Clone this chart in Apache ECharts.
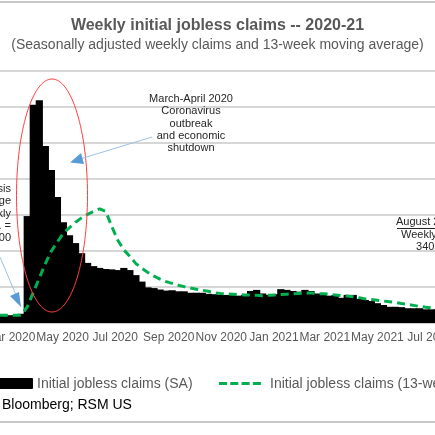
<!DOCTYPE html>
<html lang="en">
  <head>
    <meta charset="UTF-8" />
    <title>Weekly initial jobless claims</title>
    <script src="https://cdn.jsdelivr.net/npm/echarts@6/dist/echarts.min.js"></script>
    <style>
      html, body { margin: 0; padding: 0; background: #fff; }
    </style>
  </head>
  <body>
    <div id="main" style="width: 435px; height: 435px;"></div>
    <script type="text/javascript">
      // week ending dates (Saturdays)
      var weeks = [
        "2020-01-04", "2020-01-11", "2020-01-18", "2020-01-25", "2020-02-01", "2020-02-08",
        "2020-02-15", "2020-02-22", "2020-02-29", "2020-03-07", "2020-03-14", "2020-03-21",
        "2020-03-28", "2020-04-04", "2020-04-11", "2020-04-18", "2020-04-25", "2020-05-02",
        "2020-05-09", "2020-05-16", "2020-05-23", "2020-05-30", "2020-06-06", "2020-06-13",
        "2020-06-20", "2020-06-27", "2020-07-04", "2020-07-11", "2020-07-18", "2020-07-25",
        "2020-08-01", "2020-08-08", "2020-08-15", "2020-08-22", "2020-08-29", "2020-09-05",
        "2020-09-12", "2020-09-19", "2020-09-26", "2020-10-03", "2020-10-10", "2020-10-17",
        "2020-10-24", "2020-10-31", "2020-11-07", "2020-11-14", "2020-11-21", "2020-11-28",
        "2020-12-05", "2020-12-12", "2020-12-19", "2020-12-26", "2021-01-02", "2021-01-09",
        "2021-01-16", "2021-01-23", "2021-01-30", "2021-02-06", "2021-02-13", "2021-02-20",
        "2021-02-27", "2021-03-06", "2021-03-13", "2021-03-20", "2021-03-27", "2021-04-03",
        "2021-04-10", "2021-04-17", "2021-04-24", "2021-05-01", "2021-05-08", "2021-05-15",
        "2021-05-22", "2021-05-29", "2021-06-05", "2021-06-12", "2021-06-19", "2021-06-26",
        "2021-07-03", "2021-07-10", "2021-07-17", "2021-07-24", "2021-07-31", "2021-08-07",
        "2021-08-14", "2021-08-21"
      ];

      // initial jobless claims, SA (thousands)
      var claims = [
        214, 207, 220, 215, 203, 206,
        215, 220, 217, 211, 256, 2970,
        6060, 6190, 4920, 4250, 3500, 2800,
        2440, 2220, 1940, 1670, 1580, 1530,
        1500, 1490, 1470, 1530, 1470, 1330,
        1150, 990, 970, 930, 900, 910,
        880, 880, 840, 840, 840, 810,
        800, 780, 780, 780, 760, 780,
        890, 920, 820, 780, 800, 940,
        920, 890, 870, 920, 890, 820,
        800, 760, 780, 700, 780, 780,
        670, 640, 610, 550, 500, 450,
        450, 440, 410, 410, 410, 380,
        380, 390, 420, 400, 390, 380,
        350, 340
      ];

      // 13-week moving average (thousands)
      var movingAvg = [
        215, 214, 214, 214, 213, 212,
        212, 212, 212, 213, 215, 450,
        850, 1250, 1650, 2000, 2250, 2500,
        2650, 2800, 2920, 3020, 3100, 3170,
        3100, 2680, 2300, 2030, 1850, 1650,
        1520, 1400, 1300, 1220, 1150, 1100,
        1050, 1010, 970, 940, 910, 880,
        840, 820, 810, 800, 790, 780,
        780, 770, 760, 770, 780, 790,
        800, 810, 820, 830, 830, 820,
        810, 800, 780, 760, 750, 730,
        700, 670, 650, 630, 610, 590,
        570, 540, 520, 490, 460, 440,
        420, 410, 400, 400, 390, 390,
        380, 370
      ];

      var monthNames = ["Jan", "Feb", "Mar", "Apr", "May", "Jun", "Jul", "Aug", "Sep", "Oct", "Nov", "Dec"];
      var tickMonths = ["2020-03-01", "2020-05-01", "2020-07-01", "2020-09-01", "2020-11-01",
        "2021-01-01", "2021-03-01", "2021-05-01", "2021-07-01"];

      var barName = "Initial jobless claims (SA)";
      var lineName = "Initial jobless claims (13-week moving average)";

      function toTs(s) {
        var p = s.split("-");
        return Date.UTC(+p[0], +p[1] - 1, +p[2]);
      }

      var barData = [];
      var lineData = [];
      for (var i = 0; i < weeks.length; i++) {
        barData.push([toTs(weeks[i]), claims[i]]);
        lineData.push([toTs(weeks[i]), movingAvg[i]]);
      }

      var myChart = echarts.init(document.getElementById("main"), null, { renderer: "canvas" });

      var ff = "Liberation Sans";
      var green = "#00b050";
      var gridGrey = "#c8c8c8";

      var option = {
        animation: false,
        backgroundColor: "#fff",
        title: {
          text: "Weekly initial jobless claims -- 2020-21",
          subtext: "(Seasonally adjusted weekly claims and 13-week moving average)",
          left: "center",
          top: 13,
          itemGap: 4,
          textStyle: { fontFamily: ff, fontSize: 16, fontWeight: "bold", color: "#595959" },
          subtextStyle: { fontFamily: ff, fontSize: 14, color: "#595959" }
        },
        grid: { left: 0, right: 0, top: 71, bottom: 112, containLabel: false, outerBoundsMode: "none" },
        xAxis: {
          // dates as UTC timestamps on a plain value axis
          type: "value",
          min: Date.UTC(2020, 1, 18, 10),
          max: Date.UTC(2021, 6, 6, 19),
          axisLine: { show: true, onZero: false, lineStyle: { color: gridGrey, width: 1.5 } },
          axisTick: { show: false },
          splitLine: { show: false },
          axisLabel: {
            customValues: tickMonths.map(toTs),
            hideOverlap: false,
            margin: 9,
            fontFamily: ff,
            fontSize: 12,
            color: "#595959",
            formatter: function (v) {
              var d = new Date(v);
              return monthNames[d.getUTCMonth()] + " " + d.getUTCFullYear();
            }
          }
        },
        yAxis: {
          type: "value",
          min: 0,
          max: 7000,
          interval: 1000,
          axisLabel: { show: false },
          axisLine: { show: false },
          axisTick: { show: false },
          splitLine: { show: true, showMinLine: true, showMaxLine: true, lineStyle: { color: gridGrey, width: 1.5, type: "solid", opacity: 1 } }
        },
        series: [
          {
            name: barName,
            type: "bar",
            barWidth: 7.2,
            itemStyle: { color: "#000", borderWidth: 0 },
            data: barData
          },
          {
            name: lineName,
            type: "line",
            symbol: "none",
            lineStyle: { color: green, width: 3, type: [8, 5] },
            itemStyle: { color: green },
            data: lineData
          }
        ],
        graphic: [
          // frame lines
          { type: "rect", z: 100, shape: { x: 0, y: 1, width: 435, height: 2 }, style: { fill: gridGrey } },
          { type: "rect", z: 100, shape: { x: 0, y: 421, width: 435, height: 2 }, style: { fill: gridGrey } },
          // red ellipse round the spike
          { type: "ellipse", z: 100, shape: { cx: 52, cy: 195.5, rx: 35.5, ry: 116.5 }, style: { fill: null, stroke: "#ff4040", lineWidth: 1 } },
          // main annotation
          {
            type: "text", z: 100,
            style: {
              text: "March-April 2020\nCoronavirus\noutbreak\nand economic\nshutdown",
              x: 191, y: 93, align: "center", verticalAlign: "top", lineHeight: 12.3,
              fontFamily: ff, fontSize: 11, fill: "#262626"
            }
          },
          { type: "line", z: 100, shape: { x1: 152, y1: 137, x2: 80, y2: 159 }, style: { stroke: "#9dc3e6", lineWidth: 1 } },
          { type: "polygon", z: 100, shape: { points: [[70, 162.5], [81, 153], [84, 164]] }, style: { fill: "#5b9bd5" } },
          // left annotation (cut off by the frame)
          {
            type: "text", z: 100,
            style: {
              text: "Pre-crisis\naverage\nweekly\nclaims avg. =\n210,000",
              x: 11, y: 183, align: "right", verticalAlign: "top", lineHeight: 12.3,
              fontFamily: ff, fontSize: 11, fill: "#262626"
            }
          },
          { type: "line", z: 100, shape: { x1: 0, y1: 257, x2: 16, y2: 295 }, style: { stroke: "#9dc3e6", lineWidth: 1 } },
          { type: "polygon", z: 100, shape: { points: [[21, 307], [10, 296], [19, 292]] }, style: { fill: "#5b9bd5" } },
          // right annotation
          {
            type: "text", z: 100,
            style: {
              text: "August 21, 2021\nWeekly claims\n340,000",
              x: 436, y: 216, align: "center", verticalAlign: "top", lineHeight: 12.5,
              fontFamily: ff, fontSize: 11, fill: "#262626"
            }
          },
          { type: "rect", z: 100, shape: { x: 397, y: 228, width: 38, height: 1 }, style: { fill: "#262626" } },
          // legend
          { type: "rect", z: 100, shape: { x: -12, y: 378, width: 45, height: 11, r: 1 }, style: { fill: "#000" } },
          {
            type: "text", z: 100,
            style: { text: barName, x: 37, y: 384, align: "left", verticalAlign: "middle", fontFamily: ff, fontSize: 14, fill: "#595959" }
          },
          { type: "line", z: 100, shape: { x1: 219, y1: 383.5, x2: 261, y2: 383.5 }, style: { stroke: green, lineWidth: 3, lineDash: [8, 3.3] } },
          {
            type: "text", z: 100,
            style: { text: lineName, x: 270, y: 384, align: "left", verticalAlign: "middle", fontFamily: ff, fontSize: 14, fill: "#595959" }
          },
          // source
          {
            type: "text", z: 100,
            style: {
              text: "Bloomberg; RSM US",
              x: 2, y: 405, align: "left", verticalAlign: "middle",
              fontFamily: ff, fontSize: 14, fill: "#000"
            }
          }
        ]
      };

      myChart.setOption(option);
    </script>
  </body>
</html>
